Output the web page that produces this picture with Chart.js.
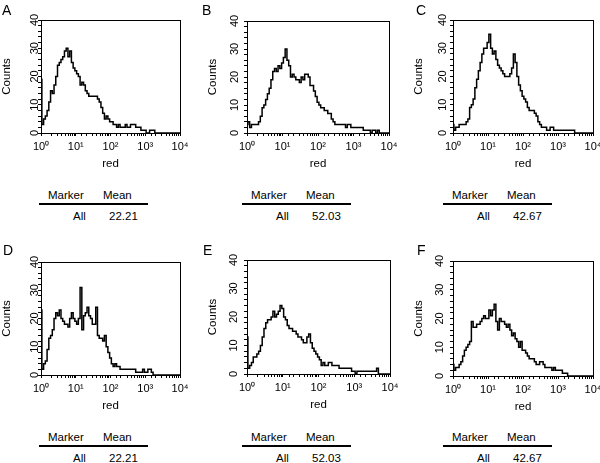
<!DOCTYPE html>
<html>
<head>
<meta charset="utf-8">
<script src="https://cdn.jsdelivr.net/npm/chart.js@4"></script>
<style>
  body { margin: 0; background: #fff; }
  #fig { position: relative; width: 600px; height: 463px; overflow: hidden;
         font-family: "Liberation Sans", Arial, sans-serif; color: #000; }
  #fig canvas { position: absolute; }
  .letter { position: absolute; font-size: 14px; line-height: 14px; }
  .tbl { position: absolute; width: 109px; height: 32px; font-size: 11.5px; line-height: 13px; }
  .tbl span { position: absolute; white-space: nowrap; }
  .tbl .rule { position: absolute; left: 0; width: 109px; height: 1.5px; background: #000; top: 14px; }
</style>
</head>
<body>
<div id="fig"></div>
<script>
// histogram counts per panel, one value per log channel (20 per decade, 10^0 .. 10^4)
const countsA = [19,3,5,6,8,11,15,14,17,20, 24,25,26,27,29,30,27,29,25,23, 22,21,20,17,18,17,15,14,13,13,
  13,13,13,12,11,9,7,5,6,5, 4,4,3,3,2,3,2,2,2,3, 2,2,3,3,3,2,2,2,1,1, 1,0,0,1,1,1,0,0,0,0, 0,0,0,0,0,0,0,0,0,0, 0]
const countsB = [3,4,2,3,3,3,3,4,6,9, 10,12,14,16,19,22,23,22,24,23, 25,27,30,26,24,20,21,20,19,19,
  18,20,19,21,21,20,17,17,15,13, 11,10,9,9,8,8,7,7,5,4, 3,3,3,3,3,3,2,3,3,2, 2,2,2,2,2,2,1,1,1,1, 0,1,1,0,1,0,0,0,0,0, 0]
const countsC = [3,1,2,2,3,3,3,3,4,5, 9,10,12,16,19,22,25,28,30,30, 32,35,30,28,29,26,24,23,22,21,
  20,20,20,21,23,28,25,20,17,15, 13,12,11,9,8,8,8,7,6,4, 3,2,2,2,1,1,2,2,1,1, 1,1,1,1,1,1,1,1,1,1, 0,0,0,0,0,0,0,0,0,0, 0]
const countsD = [23,2,4,5,9,13,14,16,20,22, 21,23,20,19,18,18,17,20,22,20, 19,18,20,31,16,21,22,24,21,20,
  18,18,24,14,13,13,12,14,10,8, 6,4,3,4,3,3,2,2,2,2, 2,2,2,2,2,1,1,1,1,2, 1,1,2,2,1,0,0,0,0,0, 0,0,0,0,0,0,0,0,0,0, 0]
const countsE = [13,2,3,4,6,6,7,8,10,13, 16,18,19,19,20,22,20,21,22,24, 23,20,19,17,16,16,15,15,14,13,
  13,12,11,11,13,14,11,9,8,7, 6,5,3,4,3,3,4,4,3,3, 3,3,2,2,2,2,2,2,2,1, 1,0,1,1,1,1,1,1,1,1, 1,1,1,2,0,0,0,0,0,0, 0]
const countsF = [4,2,3,3,4,5,7,9,10,11, 12,19,17,17,18,18,19,20,21,20, 20,23,21,23,25,19,16,20,19,19,
  18,17,18,16,14,15,13,12,10,12, 9,9,8,7,6,6,6,5,4,4, 5,5,4,3,3,3,3,2,3,2, 2,2,2,1,1,1,0,0,0,0, 0,0,0,0,0,0,0,0,0,0, 0]

const panelLetters = ['A', 'B', 'C', 'D', 'E', 'F']
const markerNames = ['All', 'All', 'All', 'All', 'All', 'All']
const meanValues = ['22.21', '52.03', '42.67', '22.21', '52.03', '42.67']
const xTickLabels = ['10\u2070', '10\u00b9', '10\u00b2', '10\u00b3', '10\u2074']
const yTickLabels = [0, 10, 20, 30, 40]
const allCounts = [countsA, countsB, countsC, countsD, countsE, countsF]

// channel positions on the log axis
const channels = countsA.map((_, i) => 10 ** (i / 20))

// page layout: plot box [left, top, width, height], y label gap, letter and table spots
const panels = [
  { box: [41, 20, 139, 113], gap: 6, letter: [2, 3], table: [39, 189] },
  { box: [247, 21, 142, 112], gap: 12, letter: [202, 3], table: [242, 189] },
  { box: [453, 20, 140, 113], gap: 10, letter: [416, 3], table: [443, 189] },
  { box: [41, 262, 139, 113], gap: 6, letter: [3, 243], table: [39, 431] },
  { box: [247, 260, 143, 114], gap: 13, letter: [203, 243], table: [242, 431] },
  { box: [453, 261, 140, 115], gap: 13, letter: [417, 243], table: [443, 431] },
]

const FONT = '"Liberation Sans", Arial, sans-serif'
const fig = document.getElementById('fig')

const framePlugin = {
  id: 'frame',
  afterDraw(chart, args, opts) {
    const { ctx, chartArea: a, scales: { y } } = chart
    ctx.save()
    ctx.strokeStyle = '#000'
    ctx.lineWidth = 1
    ctx.strokeRect(Math.round(a.left) + 0.5, Math.round(a.top) + 0.5,
      Math.round(a.right - a.left), Math.round(a.bottom - a.top))
    ctx.fillStyle = '#000'
    ctx.font = '11px ' + FONT
    ctx.textAlign = 'center'
    ctx.textBaseline = 'middle'
    yTickLabels.forEach(v => {
      ctx.save()
      ctx.translate(a.left - opts.gap, y.getPixelForValue(v))
      ctx.rotate(-Math.PI / 2)
      ctx.fillText(String(v), 0, 0)
      ctx.restore()
    })
    ctx.restore()
  }
}

function isDecade(v) {
  const e = Math.log10(v)
  return Math.abs(e - Math.round(e)) < 1e-9
}

panels.forEach((p, k) => {
  const [bx, by, bw, bh] = p.box
  const canvas = document.createElement('canvas')
  canvas.width = 41 + bw + 20
  canvas.height = 20 + bh + 38
  canvas.style.left = (bx - 41) + 'px'
  canvas.style.top = (by - 20) + 'px'
  fig.appendChild(canvas)

  new Chart(canvas, {
    type: 'line',
    data: {
      datasets: [{
        data: allCounts[k].map((c, i) => ({ x: channels[i], y: c })),
        stepped: 'middle',
        borderColor: '#000',
        borderWidth: 1.5,
        pointRadius: 0,
        fill: false,
        clip: 3
      }]
    },
    options: {
      responsive: false,
      animation: false,
      layout: { padding: { left: 0, top: 20, right: 20, bottom: 0 } },
      plugins: { legend: { display: false }, tooltip: { enabled: false }, frame: { gap: p.gap } },
      scales: {
        x: {
          type: 'logarithmic',
          min: 1,
          max: 10000,
          afterFit: s => { s.height = 38 },
          grid: { drawOnChartArea: false, drawTicks: true, tickLength: 3, color: '#000' },
          border: { display: true, color: '#000', width: 1 },
          ticks: {
            autoSkip: false, maxRotation: 0, minRotation: 0, padding: 4,
            color: '#000', font: { family: FONT, size: 11 },
            callback: v => isDecade(v) ? xTickLabels[Math.round(Math.log10(v))] : ''
          },
          title: { display: true, text: 'red', color: '#000', padding: 0, font: { family: FONT, size: 11.5 } }
        },
        y: {
          min: 0,
          max: 40,
          afterFit: s => { s.width = 41 },
          grid: { drawOnChartArea: false, drawTicks: true, tickLength: 3, color: '#000' },
          border: { display: true, color: '#000', width: 1 },
          ticks: { stepSize: 2, display: false },
          title: { display: true, text: 'Counts', color: '#000', padding: 0, font: { family: FONT, size: 11.5 } }
        }
      }
    },
    plugins: [framePlugin]
  })

  const letter = document.createElement('div')
  letter.className = 'letter'
  letter.style.left = p.letter[0] + 'px'
  letter.style.top = p.letter[1] + 'px'
  letter.textContent = panelLetters[k]
  fig.appendChild(letter)

  const tbl = document.createElement('div')
  tbl.className = 'tbl'
  tbl.style.left = p.table[0] + 'px'
  tbl.style.top = p.table[1] + 'px'
  tbl.innerHTML =
    '<span style="left:9px;top:0">Marker</span>' +
    '<span style="left:64px;top:0">Mean</span>' +
    '<div class="rule"></div>' +
    '<span style="left:34px;top:21px">' + markerNames[k] + '</span>' +
    '<span style="left:70px;top:21px">' + meanValues[k] + '</span>'
  fig.appendChild(tbl)
})
</script>
</body>
</html>
